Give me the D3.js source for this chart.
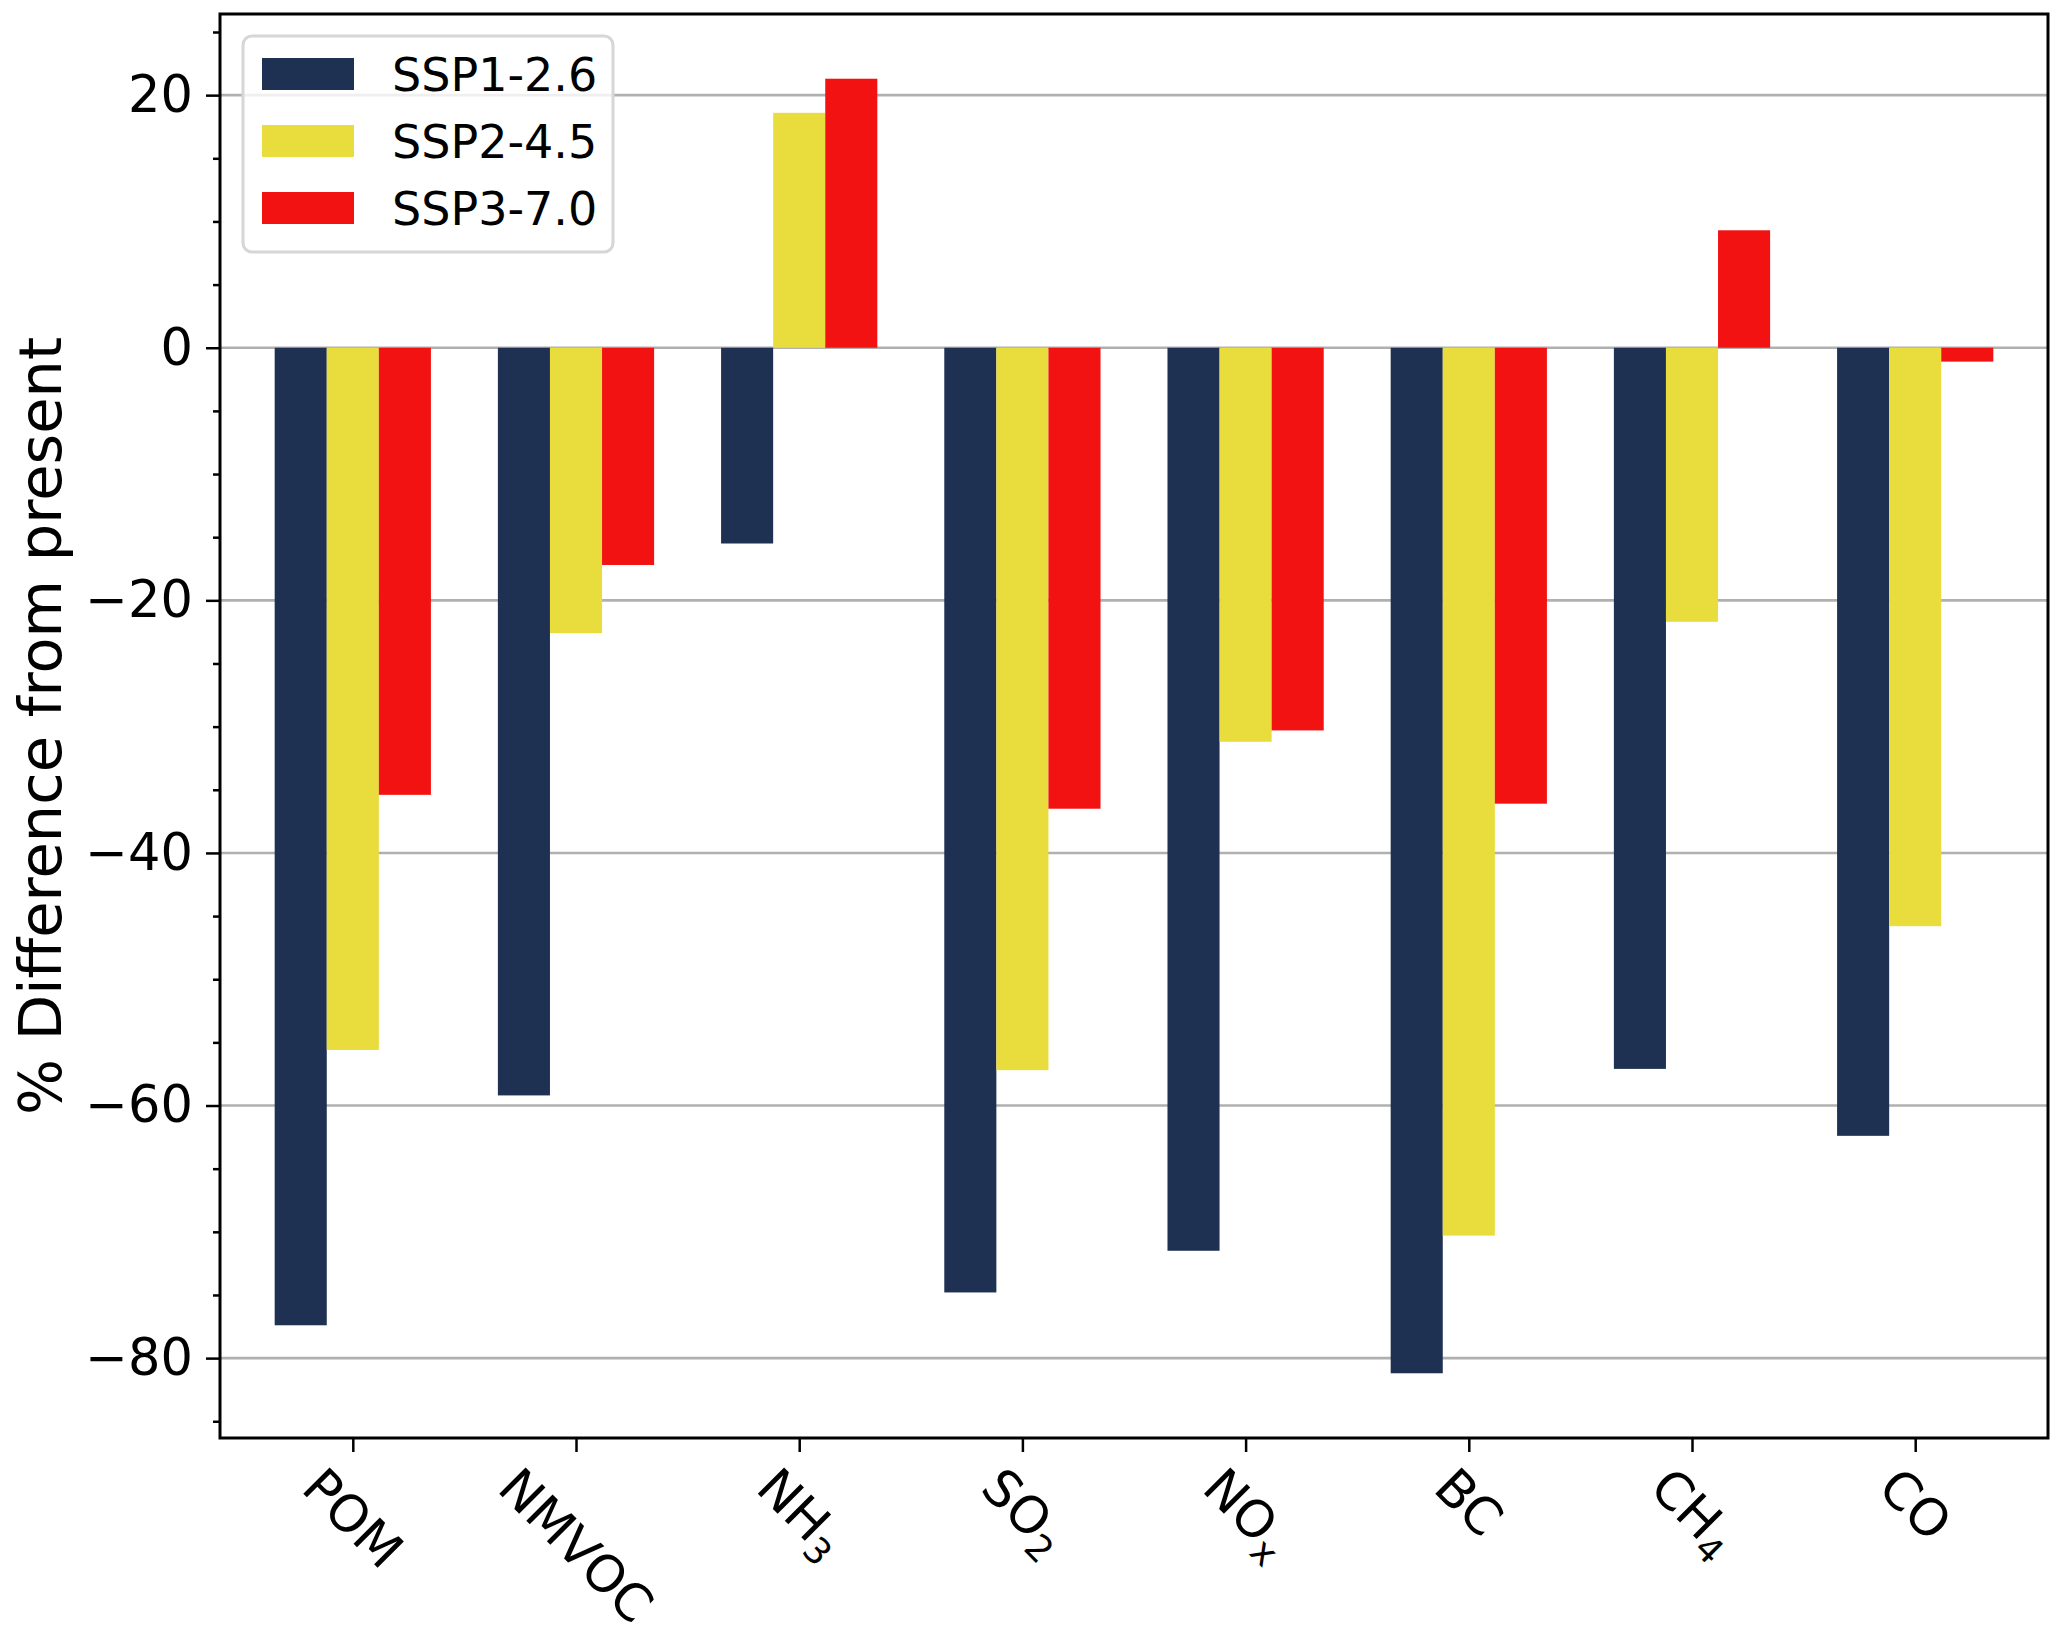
<!DOCTYPE html>
<html>
<head>
<meta charset="utf-8">
<script src="https://cdn.jsdelivr.net/npm/d3@7"></script>
<style>
    body { margin: 0; background: #fff; }
    #chart-container { width: 2067px; height: 1636px; }
    text { font-family: "DejaVu Sans", sans-serif; fill: #000; }
</style>
</head>
<body>
<div id="chart-container"></div>
<script>
// emission species on the x axis (main text + subscript)
const categories = ["POM", "NMVOC", "NH3", "SO2", "NOx", "BC", "CH4", "CO"];
const labelMain = ["POM", "NMVOC", "NH", "SO", "NO", "BC", "CH", "CO"];
const labelSub = ["", "", "3", "2", "x", "", "4", ""];

const seriesNames = ["SSP1-2.6", "SSP2-4.5", "SSP3-7.0"];
const seriesColors = ["#1f3152", "#e9dd3d", "#f21212"];

// % difference from present
const ssp126 = [-77.4, -59.2, -15.5, -74.8, -71.5, -81.2, -57.1, -62.4];
const ssp245 = [-55.6, -22.6, 18.6, -57.2, -31.2, -70.3, -21.7, -45.8];
const ssp370 = [-35.4, -17.2, 21.3, -36.5, -30.3, -36.1, 9.3, -1.1];

const yMajorTicks = [20, 0, -20, -40, -60, -80];
const yMinorTicks = [25, 15, 10, 5, -5, -10, -15, -25, -30, -35, -45, -50, -55, -65, -70, -75, -85];

let svg;
let margin = {
    top: 14,
    right: 19,
    bottom: 198,
    left: 220
};
let width = 2067 - margin.left - margin.right;
let height = 1636 - margin.top - margin.bottom;
let xScale;
let yScale;
const barWidth = 0.7 / 3;

function initViz() {
    svg = d3.select("#chart-container")
        .append("svg")
        .attr("width", 2067)
        .attr("height", 1636)
        .append("g")
        .attr("transform", `translate(${margin.left},${margin.top})`);

    updateScales();
    drawGrid();
    drawBars();
    drawAxes();
    drawXLabels();
    drawLegend();
}

function updateScales() {
    const allValues = ssp126.concat(ssp245, ssp370);
    const lo = d3.min(allValues);
    const hi = d3.max(allValues);
    const pad = (hi - lo) * 0.05;

    xScale = d3.scaleLinear()
        .domain([-0.595, categories.length - 1 + 0.595])
        .range([0, width]);

    yScale = d3.scaleLinear()
        .domain([lo - pad, hi + pad])
        .range([height, 0]);
}

function drawGrid() {
    svg.append("g")
        .attr("class", "grid")
        .selectAll("line")
        .data(yMajorTicks)
        .enter()
        .append("line")
        .attr("x1", 0)
        .attr("x2", width)
        .attr("y1", d => yScale(d))
        .attr("y2", d => yScale(d))
        .style("stroke", "#b0b0b0")
        .style("stroke-width", 2.6);
}

function drawBars() {
    const series = [ssp126, ssp245, ssp370];
    const bw = xScale(barWidth) - xScale(0);

    series.forEach((vals, s) => {
        svg.selectAll(".bar-" + s)
            .data(vals)
            .enter()
            .append("rect")
            .attr("class", "bar-" + s)
            .attr("x", (d, i) => xScale(i + (s - 1) * barWidth - barWidth / 2))
            .attr("width", bw)
            .attr("y", d => yScale(Math.max(0, d)))
            .attr("height", d => Math.abs(yScale(d) - yScale(0)))
            .style("fill", seriesColors[s]);
    });
}

function drawAxes() {
    // minor y ticks
    svg.append("g")
        .attr("class", "y-minor")
        .call(d3.axisLeft(yScale)
            .tickValues(yMinorTicks)
            .tickSize(7)
            .tickFormat(""))
        .call(g => g.select(".domain").remove())
        .selectAll("line")
        .style("stroke", "#000")
        .style("stroke-width", 2.5);

    svg.append("g")
        .attr("class", "y-axis")
        .call(d3.axisLeft(yScale)
            .tickValues(yMajorTicks)
            .tickSize(14)
            .tickPadding(13))
        .call(g => g.select(".domain").remove())
        .call(g => g.selectAll("line")
            .style("stroke", "#000")
            .style("stroke-width", 2.5))
        .selectAll("text")
        .attr("font-size", 51)
        .attr("font-family", "DejaVu Sans");

    svg.append("g")
        .attr("class", "x-axis")
        .attr("transform", `translate(0,${height})`)
        .call(d3.axisBottom(xScale)
            .tickValues(d3.range(categories.length))
            .tickSize(14)
            .tickFormat(""))
        .call(g => g.select(".domain").remove())
        .selectAll("line")
        .style("stroke", "#000")
        .style("stroke-width", 2.5);

    // frame
    svg.append("rect")
        .attr("x", 0)
        .attr("y", 0)
        .attr("width", width)
        .attr("height", height)
        .style("fill", "none")
        .style("stroke", "#000")
        .style("stroke-width", 3);

    svg.append("text")
        .attr("class", "axis-label")
        .attr("transform", "rotate(-90)")
        .attr("x", -height / 2)
        .attr("y", 61 - margin.left)
        .attr("font-size", 59)
        .style("text-anchor", "middle")
        .text("% Difference from present");
}

function drawXLabels() {
    const labelTop = 19;
    categories.forEach((c, i) => {
        const g = svg.append("g").attr("class", "x-label");
        const t = g.append("text").attr("font-size", 51);
        t.append("tspan").text(labelMain[i]);
        if (labelSub[i]) {
            t.append("tspan")
                .attr("font-size", 36)
                .attr("dy", 11)
                .text(labelSub[i]);
        }
        const bb = t.node().getBBox();
        const half = (bb.width + bb.height) / Math.SQRT2 / 2;
        g.attr("transform",
            `translate(${xScale(i)},${height + labelTop + half}) rotate(45) ` +
            `translate(${-(bb.x + bb.width / 2)},${-(bb.y + bb.height / 2)})`);
    });
}

function drawLegend() {
    const fs = 46;
    const legend = svg.append("g")
        .attr("class", "legend")
        .attr("transform", "translate(23,22)");

    legend.append("rect")
        .attr("width", 370)
        .attr("height", 216)
        .attr("rx", 9)
        .style("fill", "#fff")
        .style("fill-opacity", 0.8)
        .style("stroke", "#d6d6d6")
        .style("stroke-width", 3);

    seriesNames.forEach((name, s) => {
        const cy = 38 + s * 67;
        legend.append("rect")
            .attr("x", 19)
            .attr("y", cy - 16)
            .attr("width", 92)
            .attr("height", 32)
            .style("fill", seriesColors[s]);
        legend.append("text")
            .attr("x", 149)
            .attr("y", cy + fs * 0.36)
            .attr("font-size", fs)
            .text(name);
    });
}

window.addEventListener('load', initViz);
</script>
</body>
</html>
